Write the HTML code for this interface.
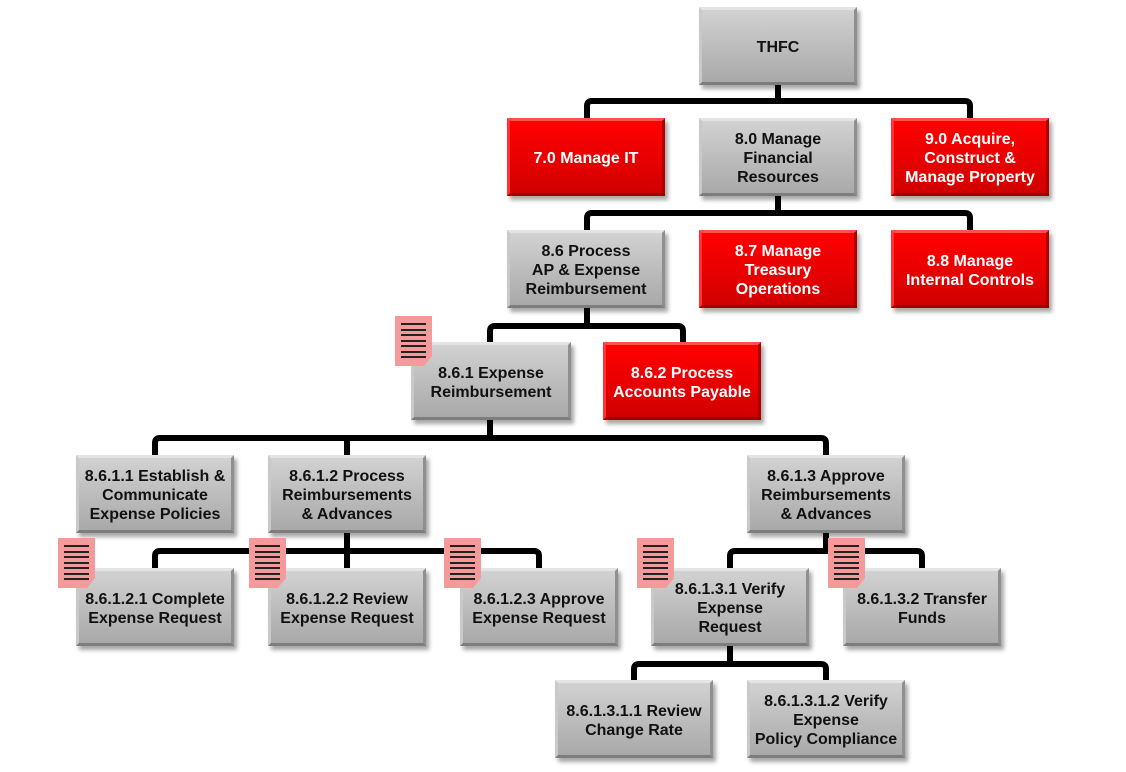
<!DOCTYPE html>
<html><head><meta charset="utf-8"><style>
body{margin:0;width:1126px;height:772px;background:#fff;position:relative;overflow:hidden;font-family:"Liberation Sans",Arial,sans-serif}
.b{position:absolute;width:158px;height:78px;display:flex;align-items:center;justify-content:center;text-align:center;font-weight:bold;font-size:16px;line-height:19px;box-sizing:border-box;padding-top:3px;
background:linear-gradient(#d2d2d2,#bdbdbd 50%,#a9a9a9);color:#111;border-top:3px solid #e4e4e4;border-left:3px solid #c9c9c9;border-right:3px solid #8f8f8f;border-bottom:3px solid #7d7d7d;box-shadow:3px 4px 4px rgba(0,0,0,.35)}
.r{background:linear-gradient(#f00,#e60000 60%,#d00000);color:#fff;border-top-color:#ff5050;border-left-color:#f33;border-right-color:#b00000;border-bottom-color:#a00000}
.n{position:absolute;width:37px;height:50px;background:#f49a9a;box-sizing:border-box;padding:7px 6px 0;box-shadow:1px 1px 2px rgba(0,0,0,.3);clip-path:polygon(0 0,100% 0,100% 80%,78% 100%,0 100%)}
.n i{display:block;height:2px;background:#222;margin-bottom:3.5px}
svg{position:absolute;left:0;top:0}
</style></head><body>
<svg width="1126" height="772"><g fill="none" stroke="#000" stroke-width="6" stroke-linejoin="round">
<path d="M778 85V101 M587 118V106Q587 101 592 101H965Q970 101 970 106V118"/>
<path d="M778 196V213 M587 230V218Q587 213 592 213H965Q970 213 970 218V230"/>
<path d="M587 308V326 M490 342V331Q490 326 495 326H678Q683 326 683 331V342"/>
<path d="M490 420V438 M155 455V443Q155 438 160 438H821Q826 438 826 443V455 M347 438V455"/>
<path d="M347 533V551 M155 568V556Q155 551 160 551H534Q539 551 539 556V568 M347 551V568"/>
<path d="M826 533V551 M730 568V556Q730 551 735 551H917Q922 551 922 556V568"/>
<path d="M730 646V664 M634 680V669Q634 664 639 664H821Q826 664 826 669V680"/>
</g></svg>
<div class="b" style="left:699px;top:7px">THFC</div>
<div class="b r" style="left:507px;top:118px">7.0 Manage IT</div>
<div class="b" style="left:699px;top:118px">8.0 Manage<br>Financial<br>Resources</div>
<div class="b r" style="left:891px;top:118px">9.0 Acquire,<br>Construct &amp;<br>Manage Property</div>
<div class="b" style="left:507px;top:230px">8.6 Process<br>AP &amp; Expense<br>Reimbursement</div>
<div class="b r" style="left:699px;top:230px">8.7 Manage<br>Treasury<br>Operations</div>
<div class="b r" style="left:891px;top:230px">8.8 Manage<br>Internal Controls</div>
<div class="b" style="left:411px;top:342px;width:160px">8.6.1 Expense<br>Reimbursement</div>
<div class="b r" style="left:603px;top:342px">8.6.2 Process<br>Accounts Payable</div>
<div class="b" style="left:76px;top:455px">8.6.1.1 Establish &amp;<br>Communicate<br>Expense Policies</div>
<div class="b" style="left:268px;top:455px">8.6.1.2 Process<br>Reimbursements<br>&amp; Advances</div>
<div class="b" style="left:747px;top:455px">8.6.1.3 Approve<br>Reimbursements<br>&amp; Advances</div>
<div class="b" style="left:76px;top:568px">8.6.1.2.1 Complete<br>Expense Request</div>
<div class="b" style="left:268px;top:568px">8.6.1.2.2 Review<br>Expense Request</div>
<div class="b" style="left:460px;top:568px">8.6.1.2.3 Approve<br>Expense Request</div>
<div class="b" style="left:651px;top:568px">8.6.1.3.1 Verify<br>Expense<br>Request</div>
<div class="b" style="left:843px;top:568px">8.6.1.3.2 Transfer<br>Funds</div>
<div class="b" style="left:555px;top:680px">8.6.1.3.1.1 Review<br>Change Rate</div>
<div class="b" style="left:747px;top:680px">8.6.1.3.1.2 Verify<br>Expense<br>Policy Compliance</div>
<div class="n" style="left:395px;top:316px"><i></i><i></i><i></i><i></i><i></i><i></i><i></i></div>
<div class="n" style="left:58px;top:538px"><i></i><i></i><i></i><i></i><i></i><i></i><i></i></div>
<div class="n" style="left:249px;top:538px"><i></i><i></i><i></i><i></i><i></i><i></i><i></i></div>
<div class="n" style="left:444px;top:538px"><i></i><i></i><i></i><i></i><i></i><i></i><i></i></div>
<div class="n" style="left:637px;top:538px"><i></i><i></i><i></i><i></i><i></i><i></i><i></i></div>
<div class="n" style="left:828px;top:538px"><i></i><i></i><i></i><i></i><i></i><i></i><i></i></div>
</body></html>
